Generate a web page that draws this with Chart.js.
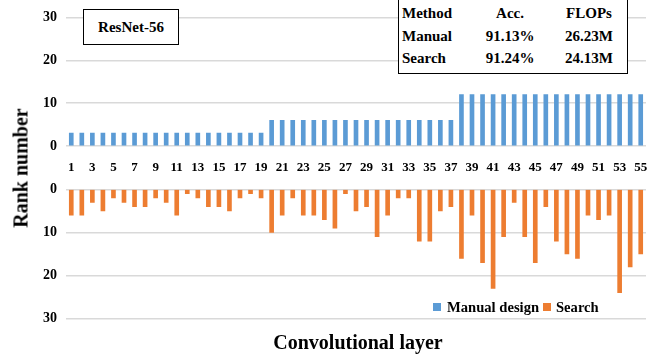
<!DOCTYPE html>
<html>
<head>
<meta charset="utf-8">
<script src="https://cdn.jsdelivr.net/npm/chart.js@4"></script>
<style>
  body { margin: 0; background: #fff; }
  #wrap { position: relative; width: 670px; height: 356px; font-family: "Liberation Serif", "Times New Roman", serif; font-weight: bold; color: #000; }
  #topBox { position: absolute; left: 0; top: 0; width: 670px; height: 180px; }
  #botBox { position: absolute; left: 0; top: 172px; width: 670px; height: 164px; }
  .txt { position: absolute; white-space: nowrap; }
  #yTitle { left: 21px; top: 168px; font-size: 20px; transform: translate(-50%, -50%) rotate(-90deg); }
  #xTitle { left: 358px; top: 342px; font-size: 20px; transform: translate(-50%, -50%); }
  #netBox { position: absolute; left: 83px; top: 9px; width: 94px; height: 34px; border: 1.5px solid #000; background: #fff; font-size: 15px; text-align: center; line-height: 34px; }
  #table { position: absolute; left: 398px; top: -1px; width: 228px; height: 73px; border: 1.5px solid #000; background: #fff; font-size: 15px; }
  #table div { position: absolute; }
  .legSq { position: absolute; width: 8px; height: 8px; }
</style>
</head>
<body>
<div id="wrap">
  <div id="topBox"><canvas id="topChart"></canvas></div>
  <div id="botBox"><canvas id="botChart"></canvas></div>
  <div class="txt" id="yTitle">Rank number</div>
  <div class="txt" id="xTitle">Convolutional layer</div>
  <div id="netBox">ResNet-56</div>
  <div id="table"></div>
  <div class="legSq" style="left:433px;top:303px;background:#5B9BD5"></div>
  <div class="txt" style="left:447px;top:299px;font-size:14.6px">Manual design</div>
  <div class="legSq" style="left:543px;top:303px;background:#ED7D31"></div>
  <div class="txt" style="left:556px;top:299px;font-size:14.6px">Search</div>
</div>
<script>
// layer indices 1..55
const layers = [];
for (let i = 1; i <= 55; i++) layers.push(String(i));

const manualRanks = [
  3, 3, 3, 3, 3, 3, 3, 3, 3, 3, 3, 3, 3, 3, 3, 3, 3, 3, 3,
  6, 6, 6, 6, 6, 6, 6, 6, 6, 6, 6, 6, 6, 6, 6, 6, 6, 6,
  12, 12, 12, 12, 12, 12, 12, 12, 12, 12, 12, 12, 12, 12, 12, 12, 12, 12
];
const searchRanks = [
  6, 6, 3, 5, 2, 3, 4, 4, 2, 3, 6, 1, 2, 4, 4, 5, 2, 1, 2,
  10, 6, 2, 6, 6, 7, 9, 1, 5, 4, 11, 6, 2, 2, 12, 12, 5, 4,
  16, 6, 17, 23, 11, 3, 11, 17, 4, 12, 15, 16, 6, 7, 6, 24, 18, 15
];
const yTicks = [0, 10, 20, 30];

const tableHead = ["Method", "Acc.", "FLOPs"];
const tableRows = [
  ["Manual", "91.13%", "26.23M"],
  ["Search", "91.24%", "24.13M"]
];

// table overlay
const table = document.getElementById("table");
[tableHead].concat(tableRows).forEach((row, r) => {
  const top = 5 + r * 22.5;
  const a = document.createElement("div");
  a.style.left = "3px"; a.style.top = top + "px"; a.textContent = row[0];
  const b = document.createElement("div");
  b.style.left = "111px"; b.style.top = top + "px"; b.style.transform = "translateX(-50%)"; b.textContent = row[1];
  const c = document.createElement("div");
  c.style.left = "190px"; c.style.top = top + "px"; c.style.transform = "translateX(-50%)"; c.textContent = row[2];
  table.appendChild(a); table.appendChild(b); table.appendChild(c);
});

const tickFont = { family: "'Liberation Serif', 'Times New Roman', serif", size: 14, weight: "bold" };
const gridColor = "#d9d9d9";

function yAxis(reverse) {
  return {
    min: 0, max: 30, reverse: reverse,
    afterBuildTicks: (axis) => { axis.ticks = yTicks.map(v => ({ value: v })); },
    afterFit: (axis) => { axis.width = 66; },
    ticks: { color: "#000", font: tickFont, padding: 9 },
    grid: { color: gridColor, lineWidth: 1.5, drawTicks: false },
    border: { display: false }
  };
}

new Chart("topChart", {
  type: "bar",
  data: {
    labels: layers,
    datasets: [{
      label: "Manual design",
      data: manualRanks,
      backgroundColor: "#5B9BD5",
      barThickness: 4
    }]
  },
  options: {
    responsive: true,
    maintainAspectRatio: false,
    animation: false,
    layout: { padding: { top: 10, right: 24, left: 0, bottom: 0 } },
    plugins: { legend: { display: false }, tooltip: { enabled: false } },
    scales: {
      x: {
        grid: { display: false },
        border: { display: false },
        afterFit: (axis) => { axis.height = 34; },
        ticks: {
          color: "#000",
          font: { family: tickFont.family, size: 13, weight: "bold" },
          autoSkip: false, maxRotation: 0, padding: 6,
          callback: function (val, idx) { return idx % 2 === 0 ? this.getLabelForValue(val) : ""; }
        }
      },
      y: yAxis(false)
    }
  }
});

new Chart("botChart", {
  type: "bar",
  data: {
    labels: layers,
    datasets: [{
      label: "Search",
      data: searchRanks,
      backgroundColor: "#ED7D31",
      barThickness: 4
    }]
  },
  options: {
    responsive: true,
    maintainAspectRatio: false,
    animation: false,
    layout: { padding: { top: 8, right: 24, left: 0, bottom: 0 } },
    plugins: { legend: { display: false }, tooltip: { enabled: false } },
    scales: {
      x: { display: false },
      y: yAxis(true)
    }
  }
});
</script>
</body>
</html>
